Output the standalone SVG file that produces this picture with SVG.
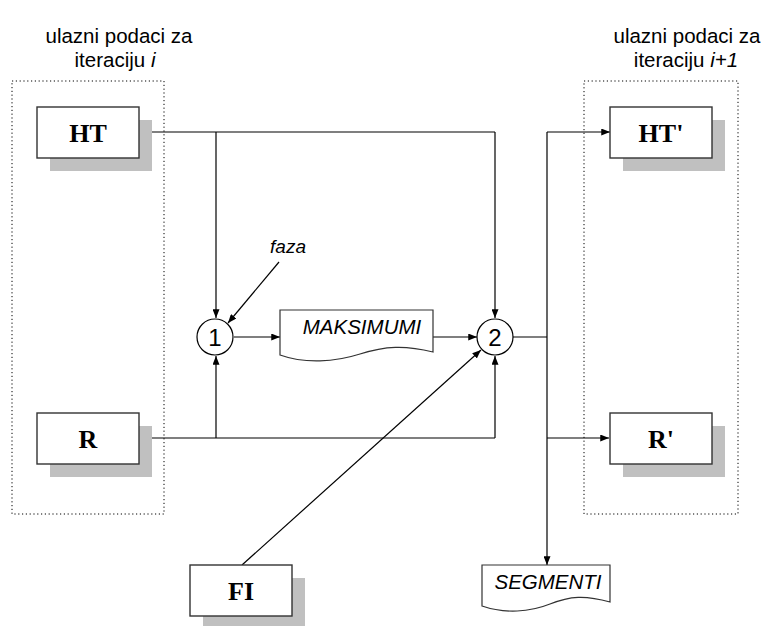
<svg xmlns="http://www.w3.org/2000/svg" width="766" height="626" viewBox="0 0 766 626">
  <style>
    .group-frame { fill: none; stroke: #000; stroke-width: 1; stroke-dasharray: 1.2 2.6; }
    .shadow { fill: #c0c0c0; }
    .box { fill: #fff; stroke: #333; stroke-width: 1.4; }
    .box-label { font-family: "Liberation Serif", "Times New Roman", serif; font-weight: bold; font-size: 26px; text-anchor: middle; fill: #000; }
    .title { font-family: "Liberation Sans", Arial, sans-serif; font-size: 20.5px; text-anchor: middle; fill: #000; }
    .proc { fill: #fff; stroke: #000; stroke-width: 1.2; }
    .proc-label { font-family: "Liberation Sans", Arial, sans-serif; font-size: 24px; text-anchor: middle; fill: #000; }
    .doc { fill: #fff; stroke: #333; stroke-width: 1.2; }
    .doc-label { font-family: "Liberation Sans", Arial, sans-serif; font-style: italic; font-size: 20.5px; text-anchor: middle; fill: #000; }
    .note { font-family: "Liberation Sans", Arial, sans-serif; font-style: italic; font-size: 19px; text-anchor: middle; fill: #000; }
    .wire { fill: none; stroke: #000; stroke-width: 1.2; }
    .arrow { fill: none; stroke: #000; stroke-width: 1.2; marker-end: url(#head); }
  </style>
  <defs>
    <marker id="head" viewBox="0 0 10 8" refX="10" refY="4" markerWidth="9" markerHeight="7" markerUnits="userSpaceOnUse" orient="auto">
      <path d="M0,0 L10,4 L0,8 Z" fill="#000"/>
    </marker>
  </defs>
  <rect width="766" height="626" fill="#fff"/>

  <!-- input / output groups -->
  <g id="group-input">
    <rect class="group-frame" x="12" y="81" width="152" height="433"/>
    <text class="title" x="119" y="43">ulazni podaci za</text>
    <text class="title" x="115" y="67">iteraciju <tspan font-style="italic">i</tspan></text>
  </g>
  <g id="group-output">
    <rect class="group-frame" x="584" y="81" width="154" height="433"/>
    <text class="title" x="687" y="43">ulazni podaci za</text>
    <text class="title" x="686" y="67">iteraciju <tspan font-style="italic">i+1</tspan></text>
  </g>

  <!-- connectors -->
  <g id="connectors">
    <polyline class="wire" points="139,132 495,132"/>
    <path class="arrow" d="M495,132 V318"/>
    <path class="arrow" d="M216,132 V318"/>
    <polyline class="wire" points="139,438 495,438"/>
    <path class="arrow" d="M495,438 V356"/>
    <path class="arrow" d="M216,438 V356"/>
    <path class="arrow" d="M234,337 H280"/>
    <path class="arrow" d="M433,337 H477"/>
    <path class="arrow" d="M279,262 L228,323"/>
    <path class="arrow" d="M242,565 L481,350"/>
    <path class="wire" d="M513,337 H547"/>
    <path class="arrow" d="M547,132 V565"/>
    <path class="arrow" d="M547,132 H610"/>
    <path class="arrow" d="M547,438 H609"/>
  </g>

  <!-- data stores -->
  <g id="node-ht">
    <rect class="shadow" x="50" y="120" width="102" height="51"/>
    <rect class="box" x="37" y="107" width="102" height="51"/>
    <text class="box-label" x="88" y="142">HT</text>
  </g>
  <g id="node-r">
    <rect class="shadow" x="50" y="426" width="102" height="51"/>
    <rect class="box" x="37" y="413" width="102" height="51"/>
    <text class="box-label" x="88" y="448">R</text>
  </g>
  <g id="node-ht-prime">
    <rect class="shadow" x="623" y="120" width="102" height="51"/>
    <rect class="box" x="610" y="107" width="102" height="51"/>
    <text class="box-label" x="661" y="142">HT'</text>
  </g>
  <g id="node-r-prime">
    <rect class="shadow" x="623" y="426" width="102" height="51"/>
    <rect class="box" x="610" y="413" width="102" height="51"/>
    <text class="box-label" x="661" y="448">R'</text>
  </g>
  <g id="node-fi">
    <rect class="shadow" x="203" y="578" width="102" height="51"/>
    <rect class="box" x="190" y="565" width="102" height="51"/>
    <text class="box-label" x="241" y="600">FI</text>
  </g>

  <!-- processes -->
  <g id="node-proc1">
    <circle class="proc" cx="215" cy="337" r="18"/>
    <text class="proc-label" x="215" y="345.5">1</text>
  </g>
  <g id="node-proc2">
    <circle class="proc" cx="495" cy="337" r="18"/>
    <text class="proc-label" x="495" y="345.5">2</text>
  </g>

  <!-- documents -->
  <g id="node-maksimumi">
    <path class="doc" d="M280,310 H433 V352 C405,345 385,346 360,354 C335,362 305,364 280,355 Z"/>
    <text class="doc-label" x="362" y="334">MAKSIMUMI</text>
  </g>
  <g id="node-segmenti">
    <path class="doc" d="M482,565 H610 V602 C585,595 570,596 550,604 C530,612 505,614 482,606 Z"/>
    <text class="doc-label" x="548" y="589">SEGMENTI</text>
  </g>

  <!-- annotation -->
  <g id="label-faza">
    <text class="note" x="288" y="253">faza</text>
  </g>
</svg>
